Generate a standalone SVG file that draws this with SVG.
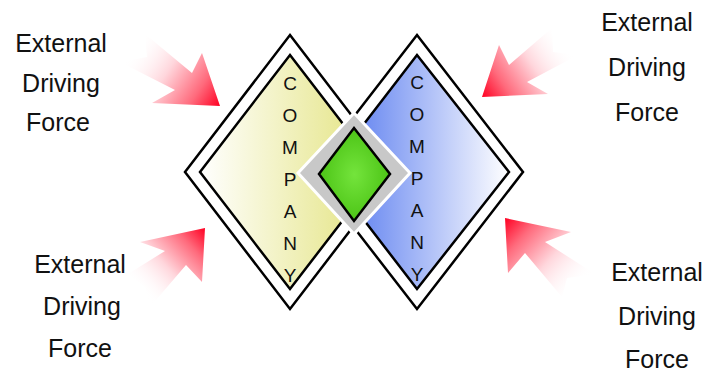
<svg xmlns="http://www.w3.org/2000/svg" width="707" height="373" viewBox="0 0 707 373">
<style>
.lbl{font-family:"Liberation Sans",Arial,sans-serif;font-size:25px;fill:#111;text-anchor:middle}
.co{font-family:"Liberation Sans",Arial,sans-serif;font-size:19px;fill:#111;text-anchor:middle}
.ol{fill:#fff;stroke:#000;stroke-width:2.5;stroke-linejoin:miter}
</style>
<defs>
<linearGradient id="gy" x1="200" y1="0" x2="380" y2="0" gradientUnits="userSpaceOnUse">
<stop offset="0" stop-color="#ffffff"/><stop offset="1" stop-color="#e2e27a"/>
</linearGradient>
<linearGradient id="gb" x1="327" y1="0" x2="509" y2="0" gradientUnits="userSpaceOnUse">
<stop offset="0" stop-color="#4a70ee"/><stop offset="1" stop-color="#ffffff"/>
</linearGradient>
<radialGradient id="gg" cx="0.5" cy="0.5" r="0.5">
<stop offset="0" stop-color="#74e43c"/><stop offset="1" stop-color="#4cc416"/>
</radialGradient>
<linearGradient id="a1" x1="133" y1="48" x2="220" y2="106" gradientUnits="userSpaceOnUse">
<stop offset="0" stop-color="#ffffff" stop-opacity="0"/><stop offset="0.4" stop-color="#ffd6dc"/><stop offset="0.75" stop-color="#ff6a7c"/><stop offset="1" stop-color="#ff0022"/>
</linearGradient>
<linearGradient id="a2" x1="139" y1="290" x2="205" y2="228" gradientUnits="userSpaceOnUse">
<stop offset="0" stop-color="#ffffff" stop-opacity="0"/><stop offset="0.4" stop-color="#ffd6dc"/><stop offset="0.75" stop-color="#ff6a7c"/><stop offset="1" stop-color="#ff0022"/>
</linearGradient>
<linearGradient id="a3" x1="565" y1="42" x2="482" y2="97" gradientUnits="userSpaceOnUse">
<stop offset="0" stop-color="#ffffff" stop-opacity="0"/><stop offset="0.4" stop-color="#ffd6dc"/><stop offset="0.75" stop-color="#ff6a7c"/><stop offset="1" stop-color="#ff0022"/>
</linearGradient>
<linearGradient id="a4" x1="580" y1="287" x2="505" y2="218" gradientUnits="userSpaceOnUse">
<stop offset="0" stop-color="#ffffff" stop-opacity="0"/><stop offset="0.4" stop-color="#ffd6dc"/><stop offset="0.75" stop-color="#ff6a7c"/><stop offset="1" stop-color="#ff0022"/>
</linearGradient>
</defs>
<g id="company-left-outer"><polygon class="ol" points="290,35 395,172 290,309 185,172"/></g>
<g id="company-right-outer"><polygon class="ol" points="417,35 523,172 417,309 311,172"/></g>
<g id="company-left">
<polygon points="290,55 380,172 290,289 200,172" fill="url(#gy)" stroke="#000" stroke-width="2.5"/>
</g>
<g id="company-right">
<polygon points="417,55 509,172 417,289 327,172" fill="url(#gb)" stroke="#000" stroke-width="2.5"/>
</g>
<g id="company-left-text">
<text class="co" x="290" y="90">C</text><text class="co" x="290" y="122">O</text><text class="co" x="290" y="154">M</text><text class="co" x="290" y="186">P</text><text class="co" x="290" y="218">A</text><text class="co" x="290" y="250">N</text><text class="co" x="290" y="282">Y</text>
</g>
<g id="company-right-text">
<text class="co" x="417" y="89">C</text><text class="co" x="417" y="121">O</text><text class="co" x="417" y="153">M</text><text class="co" x="417" y="185">P</text><text class="co" x="417" y="217">A</text><text class="co" x="417" y="249">N</text><text class="co" x="417" y="281">Y</text>
</g>
<g id="core">
<polygon points="354,113 410,173 354,234 298,173" fill="#c8c8c8" stroke="#fff" stroke-width="3"/>
<polygon points="354,128 390,174 354,221 319,174" fill="url(#gg)" stroke="#000" stroke-width="2.5"/>
</g>
<g id="forces">
<polygon points="145,34 192,73 202,53 220,106 152,103 175,90 120,62 147,57" fill="url(#a1)"/>
<polygon points="205,228 140,242 165,251 128,274 145,287 150,307 186,265 202,282" fill="url(#a2)"/>
<polygon points="482,97 499,45 509,65 552,28 553,52 578,55 527,82 548,94" fill="url(#a3)"/>
<polygon points="505,218 571,232 545,242 595,274 567,278 562,297 525,253 508,273" fill="url(#a4)"/>
</g>
<g id="label-tl"><text class="lbl" x="61" y="52">External</text><text class="lbl" x="61" y="92">Driving</text><text class="lbl" x="58" y="131">Force</text></g>
<g id="label-bl"><text class="lbl" x="80" y="273">External</text><text class="lbl" x="82" y="315">Driving</text><text class="lbl" x="80" y="357">Force</text></g>
<g id="label-tr"><text class="lbl" x="647" y="31">External</text><text class="lbl" x="647" y="76">Driving</text><text class="lbl" x="647" y="121">Force</text></g>
<g id="label-br"><text class="lbl" x="657" y="281">External</text><text class="lbl" x="657" y="325">Driving</text><text class="lbl" x="657" y="368">Force</text></g>
</svg>
